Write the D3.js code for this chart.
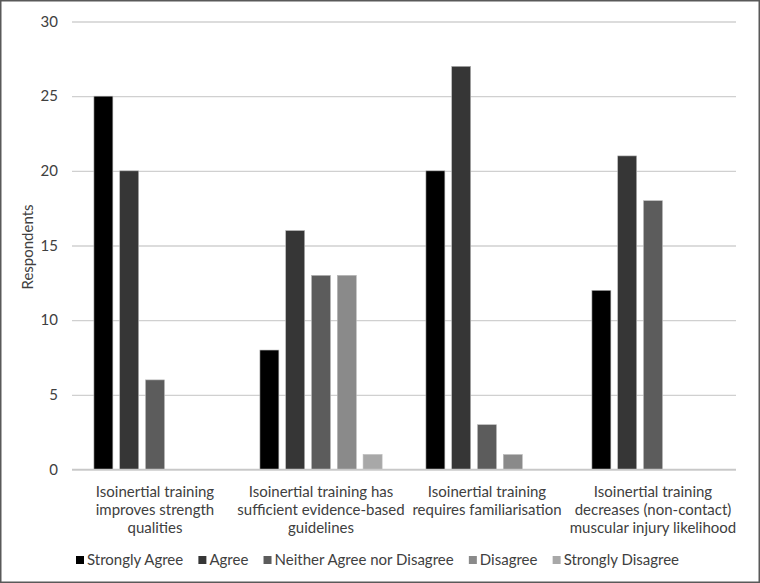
<!DOCTYPE html>
<html><head><meta charset="utf-8">
<script src="https://cdn.jsdelivr.net/npm/d3@7"></script>
<style>body{margin:0;background:#fff}svg{display:block}text{font-family:Lato,"Open Sans",sans-serif;fill:#404040}</style>
</head><body><svg id="c" width="760" height="583"></svg>
<script>
const categories = [
  ["Isoinertial training", "improves strength", "qualities"],
  ["Isoinertial training has", "sufficient evidence-based", "guidelines"],
  ["Isoinertial training", "requires familiarisation"],
  ["Isoinertial training", "decreases (non-contact)", "muscular injury likelihood"]
];
const seriesNames = ["Strongly Agree", "Agree", "Neither Agree nor Disagree", "Disagree", "Strongly Disagree"];
const seriesColors = ["#000000", "#363636", "#5c5c5c", "#8a8a8a", "#a8a8a8"];
const stronglyAgree = [25, 8, 20, 12];
const agree = [20, 16, 27, 21];
const neither = [6, 13, 3, 18];
const disagree = [0, 13, 1, 0];
const stronglyDisagree = [0, 1, 0, 0];
const yTicks = [0, 5, 10, 15, 20, 25, 30];
const seriesValues = [stronglyAgree, agree, neither, disagree, stronglyDisagree];

const svg = d3.select("#c");
const W = 760, H = 583;
const FS = 15;
svg.append("rect").attr("x", 0.75).attr("y", 0.75).attr("width", W - 1.5).attr("height", H - 1.5)
  .attr("fill", "#fff").attr("stroke", "#595959").attr("stroke-width", 1.5);

const pLeft = 72, pRight = 736, pTop = 21.5, pBottom = 469.5;
const x0 = d3.scaleBand().domain(d3.range(categories.length)).range([pLeft, pRight]).paddingInner(0).paddingOuter(0);
const x1 = d3.scaleBand().domain(d3.range(seriesNames.length)).range([x0.bandwidth() * 0.132, x0.bandwidth() * 0.868]).paddingInner(0.265).paddingOuter(0);
const y = d3.scaleLinear().domain([0, 30]).range([pBottom, pTop]);

// gridlines
const yAxis = d3.axisLeft(y).tickValues(yTicks).tickSize(-(pRight - pLeft)).tickPadding(14).tickFormat(d3.format("d"));
const ga = svg.append("g").attr("transform", `translate(${pLeft},0)`).call(yAxis);
ga.select(".domain").remove();
ga.selectAll(".tick line").attr("stroke", "#d0d0d0").attr("stroke-width", 1.3);
ga.selectAll(".tick text").attr("font-size", FS).style("fill", "#404040").attr("font-family", 'Lato,sans-serif');

// bars
const groups = svg.append("g").selectAll("g").data(categories).join("g")
  .attr("transform", (d, i) => `translate(${x0(i)},0)`);
groups.selectAll("rect").data((d, i) => seriesValues.map((s, k) => ({k, v: s[i]})).filter(e => e.v > 0))
  .join("rect")
  .attr("x", e => x1(e.k)).attr("width", x1.bandwidth())
  .attr("y", e => y(e.v)).attr("height", e => y(0) - y(e.v))
  .attr("fill", e => seriesColors[e.k]).attr("stroke", "#b8b8b8").attr("stroke-width", 0.6);

// baseline
svg.append("line").attr("x1", pLeft).attr("x2", pRight).attr("y1", y(0)).attr("y2", y(0))
  .attr("stroke", "#c8c8c8").attr("stroke-width", 1.5);

// x labels
const xl = svg.append("g");
categories.forEach((lines, i) => {
  const t = xl.append("text").attr("text-anchor", "middle").attr("font-size", FS)
    .attr("x", x0(i) + x0.bandwidth() / 2).attr("y", 497);
  lines.forEach((ln, j) => t.append("tspan").attr("x", x0(i) + x0.bandwidth() / 2).attr("dy", j === 0 ? 0 : 18).text(ln));
});

// y title
svg.append("text").attr("transform", "translate(33,247) rotate(-90)").attr("text-anchor", "middle")
  .attr("font-size", FS).text("Respondents");

// legend
const lg = svg.append("g");
const items = seriesNames.map((n, k) => {
  const g = lg.append("g");
  g.append("rect").attr("x", 0).attr("y", -4).attr("width", 8).attr("height", 8).attr("fill", seriesColors[k]);
  const t = g.append("text").attr("x", 11).attr("y", 5).attr("font-size", FS).text(n);
  return {g, w: 11 + t.node().getComputedTextLength()};
});
const legL = 76, legR = 679;
const gap = (legR - legL - d3.sum(items, d => d.w)) / (items.length - 1);
let cx = legL;
items.forEach(it => { it.g.attr("transform", `translate(${cx},560)`); cx += it.w + gap; });
</script></body></html>
